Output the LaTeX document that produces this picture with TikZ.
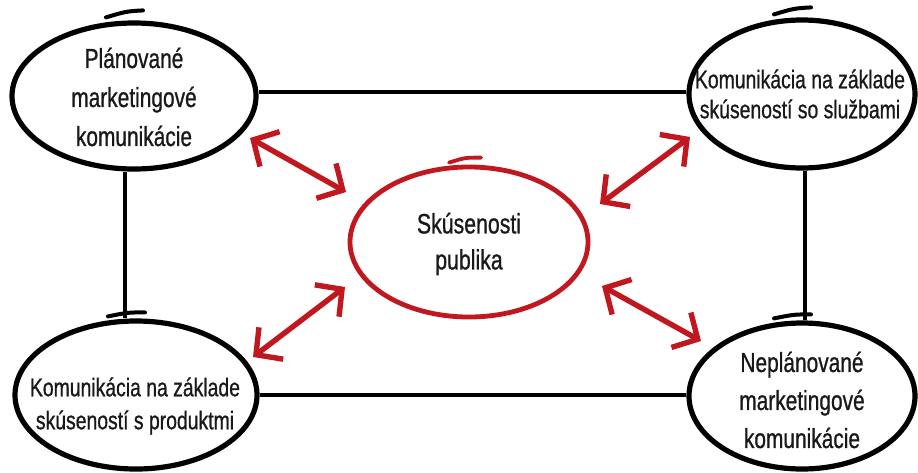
\documentclass[tikz,border=0pt]{standalone}
\usepackage{fontspec}
\setmainfont{Liberation Sans}[FakeStretch=0.76,FakeBold=0.8]
\usetikzlibrary{shapes.geometric,arrows.meta}
\definecolor{myred}{RGB}{192,24,30}
\tikzset{
  bubble/.style={ellipse, draw=black, line width=5.2pt, inner sep=0pt},
  redbubble/.style={ellipse, draw=myred, line width=4.8pt, inner sep=0pt},
  txt/.style={align=center, inner sep=0pt, text=black!90},
  link/.style={draw=black, line width=3.2pt},
  rarrow/.style={draw=myred, line width=5.4pt, {Straight Barb[length=19pt,width=40pt]}-{Straight Barb[length=19pt,width=40pt]}},
  brush/.style={draw=black, line width=4pt, line cap=round}
}
\begin{document}
\begin{tikzpicture}[x=1pt,y=-1pt]
\useasboundingbox (0,0) rectangle (918,472);
% ellipses
\node[bubble, minimum width=244pt, minimum height=146pt] (tl) at (134,96) {};
\node[bubble, minimum width=226pt, minimum height=148pt] (tr) at (802,94) {};
\node[bubble, minimum width=242pt, minimum height=148pt] (bl) at (136,395) {};
\node[bubble, minimum width=226pt, minimum height=146pt] (br) at (802,396) {};
\node[redbubble, minimum width=238pt, minimum height=150pt] (c) at (469,242) {};
% brush overstrokes
\draw[brush] ([shift={(-28,-3)}]tl.north) .. controls ([shift={(-8,-9)}]tl.north) .. ([shift={(9,-10)}]tl.north);
\draw[brush] ([shift={(-28,-3)}]tr.north) .. controls ([shift={(-8,-9)}]tr.north) .. ([shift={(9,-10)}]tr.north);
\draw[brush] ([shift={(-28,-2)}]bl.north) .. controls ([shift={(-8,-6)}]bl.north) .. ([shift={(9,-6)}]bl.north);
\draw[brush] ([shift={(-28,-2)}]br.north) .. controls ([shift={(-8,-6)}]br.north) .. ([shift={(9,-6)}]br.north);
\draw[draw=myred, line width=3.8pt, line cap=round] ([shift={(-20,-2)}]c.north) .. controls ([shift={(-4,-7)}]c.north) .. ([shift={(12,-7)}]c.north);
% texts
\node[txt, font=\fontsize{27.5}{39}\selectfont] (tlt) at (134,97) {Plánované\\marketingové\\komunikácie};
\node[txt, font=\fontsize{25.5}{30}\selectfont] (trt) at (800,94) {Komunikácia na základe\\skúseností so službami};
\node[txt, font=\fontsize{25.5}{33}\selectfont] (blt) at (135,406) {Komunikácia na základe\\skúseností s produktmi};
\node[txt, font=\fontsize{27.5}{38}\selectfont] (brt) at (802,400) {Neplánované\\marketingové\\komunikácie};
\node[txt, font=\fontsize{28}{36}\selectfont] (ct) at (469,244) {Skúsenosti\\publika};
% black links
\draw[link] (tl.east |- 0,92) -- (tr.west |- 0,92);
\draw[link] (bl.east |- 0,395) -- (br.west |- 0,395);
\draw[link] (125,0 |- tl.south) -- (125,0 |- bl.north);
\draw[link] (805,0 |- tr.south) -- (805,0 |- br.north);
% red arrows
\coordinate (a1) at (250,138);
\coordinate (a2) at (346,192);
\coordinate (b1) at (600,204);
\coordinate (b2) at (690,137);
\coordinate (c1) at (345,287);
\coordinate (c2) at (253,357);
\coordinate (d1) at (602,286);
\coordinate (d2) at (701,341);
\draw[rarrow] (a1) -- (a2);
\draw[rarrow] (b1) -- (b2);
\draw[rarrow] (c1) -- (c2);
\draw[rarrow] (d1) -- (d2);
\end{tikzpicture}
\end{document}
